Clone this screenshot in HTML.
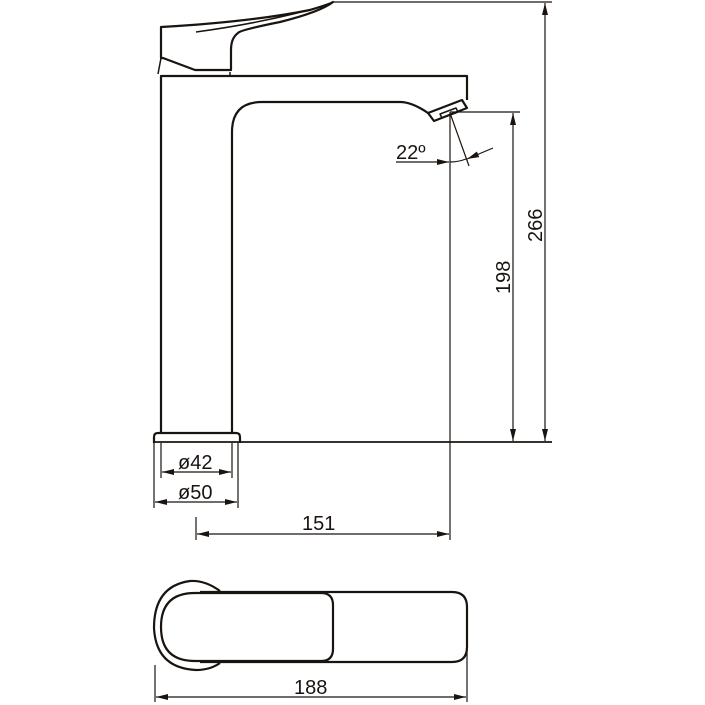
<!DOCTYPE html>
<html><head><meta charset="utf-8"><style>html,body{margin:0;padding:0;background:#fff}svg{display:block}</style></head>
<body>
<svg width="705" height="705" viewBox="0 0 705 705" xmlns="http://www.w3.org/2000/svg" font-family="Liberation Sans, sans-serif">
<defs>
<marker id="a" viewBox="0 0 12 6" refX="12" refY="3" markerWidth="13" markerHeight="6" markerUnits="userSpaceOnUse" orient="auto-start-reverse"><path d="M0,0 L12,3 L0,6 z" fill="#1a1410"/></marker>
</defs>
<g fill="none" stroke="#1a1410" stroke-width="2.2" stroke-linejoin="round">
<path d="M161,27 Q250,22 310,10 Q330,4 333,2 Q320,12 280,22 Q240,30 238,33 Q231,38 231,50 L231,70 L195,70 L163,58 L161,58 Z"/>
<path d="M196,32 Q270,22 330,4" stroke-width="1.5"/>
<path d="M161,58 L158,74" stroke-width="1.5"/>
<path d="M230,72 L230,76" stroke-width="1.5"/>
<path d="M161,433 L161,76 L467,76 L467,100"/>
<path d="M232,433 L232,132 Q232,102 262,102 L400,102 Q412,102 428,113"/>
<path d="M428,113 L462,100 L467,108 L434,121 Z"/>
<path d="M440,114 L456,108 L458,112 L442,118 Z" stroke-width="1.5"/>
<path d="M154,443 L154,437 Q154,433 158,433 L236,433 Q240,433 240,437 L240,443"/>
<path d="M220,591 Q205,580 190,581 Q154,586 154,628 Q156,668 196,670 Q210,670 220,663"/>
<path d="M200,592 L452,592 Q467,592 467,607 L467,647 Q467,662 452,662 L200,662"/>
<path d="M195,593 L321,593 Q333,593 333,605 L333,649 Q333,661 321,661 L195,661 Q161,661 161,627 Q161,593 195,593 Z"/>
</g>
<g fill="none" stroke="#1a1410" stroke-width="1.2">
<line x1="333" y1="2" x2="552" y2="2"/>
<line x1="154" y1="442" x2="552" y2="442" stroke-width="1.8"/>
<line x1="450" y1="112" x2="520" y2="112"/>
<line x1="450" y1="112" x2="450" y2="540"/>
<line x1="545" y1="3" x2="545" y2="441" marker-start="url(#a)" marker-end="url(#a)"/>
<line x1="513" y1="113" x2="513" y2="441" marker-start="url(#a)" marker-end="url(#a)"/>
<line x1="450" y1="113" x2="469" y2="166"/>
<line x1="396" y1="162" x2="449" y2="162" marker-end="url(#a)"/>
<path d="M450,162 Q458,162 466,159"/>
<line x1="493" y1="148" x2="467" y2="159" marker-end="url(#a)"/>
<line x1="161" y1="443" x2="161" y2="478"/>
<line x1="232" y1="443" x2="232" y2="478"/>
<line x1="162" y1="472" x2="231" y2="472" marker-start="url(#a)" marker-end="url(#a)"/>
<line x1="154" y1="443" x2="154" y2="508"/>
<line x1="238" y1="443" x2="238" y2="508"/>
<line x1="155" y1="502" x2="237" y2="502" marker-start="url(#a)" marker-end="url(#a)"/>
<line x1="196" y1="517" x2="196" y2="540"/>
<line x1="197" y1="534" x2="449" y2="534" marker-start="url(#a)" marker-end="url(#a)"/>
<line x1="155" y1="665" x2="155" y2="702"/>
<line x1="467" y1="650" x2="467" y2="702"/>
<line x1="156" y1="697" x2="466" y2="697" marker-start="url(#a)" marker-end="url(#a)"/>
</g>
<g fill="#1a1410" font-size="20">
<text x="396" y="159">22º</text>
<text x="178" y="469">ø42</text>
<text x="178" y="499">ø50</text>
<text x="302" y="530">151</text>
<text x="294" y="694">188</text>
<text transform="translate(542,242) rotate(-90)">266</text>
<text transform="translate(510,294) rotate(-90)">198</text>
</g>
</svg>
</body></html>
